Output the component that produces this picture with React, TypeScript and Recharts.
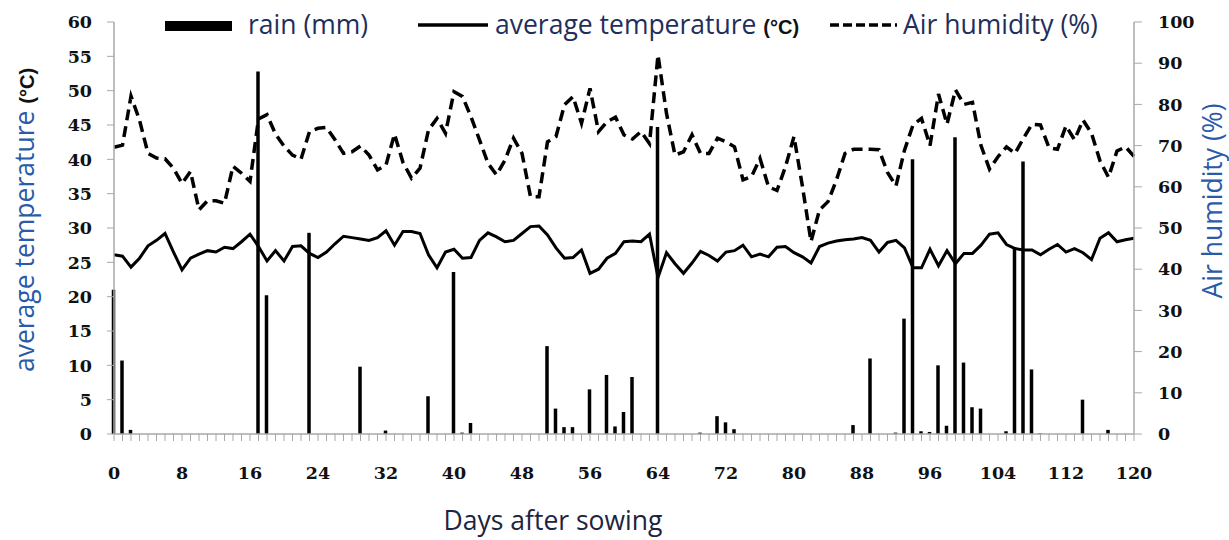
import { ComposedChart, Bar, Line, XAxis, YAxis, Legend, Label } from 'recharts';

// days after sowing (categories)
const days = Array.from({ length: 121 }, (_, i) => i);

const rain = [
  21, 10.7, 0.6, 0, 0, 0, 0, 0, 0, 0,
  0, 0, 0, 0, 0, 0, 0, 52.8, 20.2, 0,
  0, 0, 0, 29.3, 0, 0, 0, 0, 0, 9.8,
  0, 0, 0.5, 0, 0, 0, 0, 5.5, 0, 0,
  23.6, 0.2, 1.6, 0, 0, 0, 0, 0, 0, 0,
  0, 12.8, 3.7, 1.0, 1.0, 0, 6.5, 0, 8.6, 1.1,
  3.2, 8.3, 0, 0, 44.7, 0, 0, 0, 0, 0.2,
  0, 2.6, 1.7, 0.7, 0, 0, 0, 0, 0, 0,
  0, 0, 0, 0, 0, 0, 0, 1.3, 0, 11,
  0, 0, 0.2, 16.8, 40, 0.4, 0.3, 10, 1.2, 43.2,
  10.4, 3.9, 3.7, 0, 0, 0.4, 27, 39.7, 9.4, 0.1,
  0, 0, 0, 0, 5, 0, 0, 0.6, 0, 0,
  0,
];

const temperature = [
  26.1, 25.9, 24.3, 25.6, 27.4, 28.2, 29.2, 26.5, 23.9, 25.6,
  26.2, 26.7, 26.5, 27.2, 27.0, 28.0, 29.1, 27.3, 25.2, 26.7,
  25.2, 27.3, 27.4, 26.3, 25.7, 26.5, 27.7, 28.8, 28.6, 28.4,
  28.2, 28.6, 29.6, 27.5, 29.5, 29.5, 29.2, 26.1, 24.2, 26.5,
  26.9, 25.6, 25.7, 28.2, 29.3, 28.7, 28.0, 28.2, 29.2, 30.2,
  30.3, 29.0, 27.1, 25.6, 25.7, 26.8, 23.4, 24.0, 25.6, 26.3,
  28.0, 28.1, 28.0, 29.1, 22.8, 26.4, 24.8, 23.4, 24.9, 26.6,
  26.0, 25.2, 26.5, 26.7, 27.5, 25.8, 26.2, 25.8, 27.2, 27.3,
  26.4, 25.8, 24.9, 27.3, 27.8, 28.1, 28.3, 28.4, 28.6, 28.2,
  26.5, 27.9, 28.2, 27.1, 24.2, 24.2, 26.9, 24.5, 26.7, 24.8,
  26.3, 26.3, 27.5, 29.1, 29.3, 27.6, 27.0, 26.8, 26.8, 26.1,
  26.9, 27.6, 26.5, 27.0, 26.4, 25.4, 28.5, 29.3, 28.0, 28.3,
  28.5,
];

const humidity = [
  69.6, 70.1, 82.0, 76.2, 68.1, 67.0, 66.8, 64.5, 60.8, 63.7,
  54.4, 56.6, 56.6, 56.0, 65.0, 63.3, 61.3, 76.5, 77.5, 72.8,
  69.9, 67.7, 66.7, 73.4, 74.2, 74.4, 71.4, 68.1, 68.5, 69.9,
  67.7, 64.1, 65.3, 72.8, 65.9, 62.1, 64.5, 73.8, 76.6, 73.0,
  83.1, 81.9, 77.0, 71.4, 65.7, 62.9, 66.5, 71.8, 68.1, 57.6,
  57.6, 70.9, 72.2, 79.9, 81.9, 75.4, 83.9, 73.4, 75.8, 76.9,
  72.6, 71.6, 73.4, 70.5, 92.0, 77.8, 67.7, 68.5, 72.6, 68.1,
  68.1, 71.8, 70.9, 69.7, 61.7, 62.5, 66.9, 60.0, 59.1, 64.9,
  72.2, 60.0, 46.7, 54.4, 56.4, 61.7, 68.1, 69.1, 69.1, 69.1,
  69.0, 63.5, 60.2, 68.9, 75.0, 76.6, 70.0, 82.5, 75.2, 83.5,
  80.0, 80.5, 70.0, 64.3, 67.3, 69.7, 68.1, 71.8, 75.2, 75.0,
  69.5, 69.1, 74.8, 71.4, 76.2, 73.0, 66.3, 62.3, 68.7, 69.7,
  67.4,
];

const dayLabels = [0, 8, 16, 24, 32, 40, 48, 56, 64, 72, 80, 88, 96, 104, 112, 120];
const tempTicks = [0, 5, 10, 15, 20, 25, 30, 35, 40, 45, 50, 55, 60];
const humidityTicks = [0, 10, 20, 30, 40, 50, 60, 70, 80, 90, 100];

const data = days.map((day, i) => ({
  day,
  rain: rain[i],
  temperature: temperature[i],
  humidity: humidity[i],
}));

const tickFont = {
  fontFamily: '"DejaVu Serif", serif',
  fontWeight: 700,
  fontSize: 17.5,
  fill: '#111',
};
const sansFont = '"Open Sans", sans-serif';
const sansSize = 26.5;
const unitFont = '"Liberation Sans", sans-serif';
const titleBlue = '#2a5aa8';
const legendText = '#1f2f5c';
const axisGray = '#a8a8a8';

function DayTick(props: any) {
  const { x, y, payload } = props;
  if (!dayLabels.includes(payload.value)) return null;
  return (
    <text x={x} y={y} dy="0.71em" textAnchor="middle" {...tickFont}>
      {payload.value}
    </text>
  );
}

function ChartLegend() {
  return (
    <svg width={1229} height={44} style={{ display: 'block' }}>
      <rect x={165} y={21} width={67} height={10} fill="#000" />
      <text x={248} y={34} fontFamily={sansFont} fontSize={sansSize} fill={legendText}>
        rain (mm)
      </text>
      <line x1={418} x2={488} y1={25} y2={25} stroke="#000" strokeWidth={3.5} />
      <text x={495} y={34} fontFamily={sansFont} fontSize={sansSize} fill={legendText}>
        average temperature{' '}
        <tspan fontFamily={unitFont} fontWeight={700} fontSize={20} fill="#111">
          (°C)
        </tspan>
      </text>
      <line x1={830} x2={897} y1={25} y2={25} stroke="#000" strokeWidth={3.5} strokeDasharray="9 4" />
      <text x={903} y={34} fontFamily={sansFont} fontSize={sansSize} fill={legendText}>
        Air humidity (%)
      </text>
    </svg>
  );
}

function LeftTitle(props: any) {
  const { viewBox } = props;
  const cx = viewBox.x + 34;
  const cy = viewBox.y + viewBox.height / 2 - 8;
  return (
    <text
      x={cx}
      y={cy}
      transform={`rotate(-90, ${cx}, ${cy})`}
      textAnchor="middle"
      fontFamily={sansFont}
      fontSize={sansSize}
      fill={titleBlue}
    >
      average temperature{' '}
      <tspan fontFamily={unitFont} fontWeight={700} fontSize={20} fill="#111">
        (°C)
      </tspan>
    </text>
  );
}

function RightTitle(props: any) {
  const { viewBox } = props;
  const cx = viewBox.x + viewBox.width - 7;
  const cy = viewBox.y + viewBox.height / 2 - 27;
  return (
    <text
      x={cx}
      y={cy}
      transform={`rotate(-90, ${cx}, ${cy})`}
      textAnchor="middle"
      fontFamily={sansFont}
      fontSize={sansSize}
      fill={titleBlue}
    >
      Air humidity (%)
    </text>
  );
}

function BottomTitle(props: any) {
  const { viewBox } = props;
  return (
    <text
      x={viewBox.x + viewBox.width / 2 - 71}
      y={viewBox.y + 96}
      textAnchor="middle"
      fontFamily={sansFont}
      fontSize={sansSize}
      fill="#1c2440"
    >
      Days after sowing
    </text>
  );
}

export default function App() {
  return (
    <div style={{ position: 'absolute', left: 0, top: 0, background: '#fff' }}>
      <ComposedChart
        width={1229}
        height={540}
        data={data}
        margin={{ top: 22, right: 0, bottom: 0, left: 0 }}
      >
        <XAxis
          dataKey="day"
          type="number"
          domain={[0, 120]}
          ticks={days}
          interval={0}
          height={106}
          tickSize={7}
          tickMargin={26}
          tick={<DayTick />}
          axisLine={{ stroke: axisGray, strokeWidth: 1.5 }}
          tickLine={{ stroke: axisGray, strokeWidth: 1 }}
        >
          <Label content={<BottomTitle />} />
        </XAxis>
        <YAxis
          yAxisId="left"
          orientation="left"
          width={114}
          domain={[0, 60]}
          ticks={tempTicks}
          interval={0}
          tickSize={7}
          tickMargin={15}
          tick={tickFont}
          axisLine={{ stroke: axisGray, strokeWidth: 1.5 }}
          tickLine={{ stroke: axisGray, strokeWidth: 1 }}
        >
          <Label content={<LeftTitle />} />
        </YAxis>
        <YAxis
          yAxisId="right"
          orientation="right"
          width={95}
          domain={[0, 100]}
          ticks={humidityTicks}
          interval={0}
          tickSize={8}
          tickMargin={16}
          tick={{ ...tickFont, textAnchor: 'start' }}
          axisLine={{ stroke: axisGray, strokeWidth: 1.5 }}
          tickLine={{ stroke: axisGray, strokeWidth: 1 }}
        >
          <Label content={<RightTitle />} />
        </YAxis>
        <Legend
          layout="vertical"
          verticalAlign="middle"
          align="center"
          wrapperStyle={{ top: 0, left: 0, width: 1229, height: 44 }}
          content={<ChartLegend />}
        />
        <Bar
          yAxisId="left"
          dataKey="rain"
          fill="#000"
          barSize={3.5}
          isAnimationActive={false}
        />
        <Line
          yAxisId="left"
          type="linear"
          dataKey="temperature"
          stroke="#000"
          strokeWidth={3}
          dot={false}
          activeDot={false}
          isAnimationActive={false}
        />
        <Line
          yAxisId="right"
          type="linear"
          dataKey="humidity"
          stroke="#000"
          strokeWidth={3.5}
          strokeDasharray="11 6"
          dot={false}
          activeDot={false}
          isAnimationActive={false}
        />
      </ComposedChart>
    </div>
  );
}
